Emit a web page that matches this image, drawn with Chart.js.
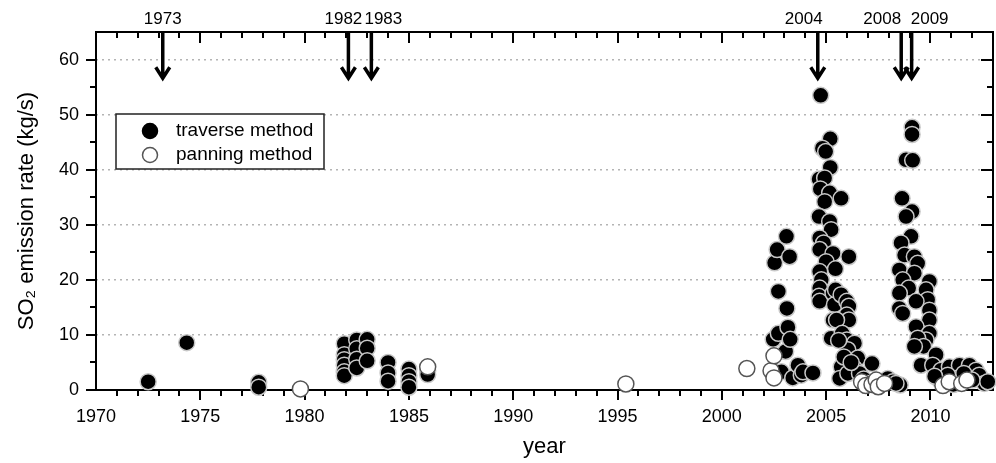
<!DOCTYPE html>
<html lang="en">
<head>
<meta charset="UTF-8">
<title>SO2 emission rate</title>
<style>
    body { margin: 0; background: #fff; }
    canvas { display: block; }
</style>
<script src="https://cdn.jsdelivr.net/npm/chart.js"></script>
</head>
<body>
<canvas id="chart" width="996" height="463"></canvas>
<script>
// values
const traverseYears = [
    1972.5, 1974.35, 1977.8, 1977.8,
    1981.9, 1981.9, 1981.9, 1981.9, 1981.9, 1981.9,
    1982.5, 1982.5, 1982.5, 1982.5,
    1983.0, 1983.0, 1983.0,
    1984.0, 1984.0, 1984.0,
    1985.0, 1985.0, 1985.0, 1985.0,
    1985.9, 1985.9,
    2002.46, 2002.53, 2002.65, 2002.71, 2002.71, 2002.86, 2003.06, 2003.1, 2003.12, 2003.17,
    2003.25, 2003.28, 2003.4, 2003.65, 2003.81, 2003.89, 2004.37,
    2004.74, 2005.2, 2004.82, 2004.98, 2005.2, 2004.66, 2004.93, 2004.72, 2005.17, 2005.72,
    2004.93, 2004.66, 2005.17, 2005.24, 2004.69, 2004.88, 2004.69, 2005.33, 2005.0, 2005.45,
    2004.69, 2004.77, 2004.69, 2004.66, 2004.69, 2005.33, 2005.4, 2005.33, 2005.24,
    2006.09, 2005.45, 2005.72, 2005.99, 2006.09, 2005.99, 2006.09, 2005.5, 2005.77, 2005.99,
    2006.36, 2006.04, 2006.52, 2005.72, 2006.36, 2007.2, 2005.65, 2006.04, 2006.6, 2005.6,
    2005.85, 2006.2, 2006.8, 2007.0, 2007.64, 2007.96, 2008.2, 2008.55, 2008.35,
    2009.12, 2009.12, 2008.83, 2009.15, 2008.64, 2009.12, 2008.83, 2009.07, 2008.59, 2008.76,
    2009.23, 2009.39, 2008.51, 2009.23, 2008.67, 2009.95, 2008.96, 2008.51, 2009.79, 2009.87,
    2009.31, 2008.51, 2008.67, 2009.95, 2009.95, 2009.31, 2009.95, 2009.79, 2009.39, 2009.67,
    2009.23, 2010.27, 2009.55, 2010.11, 2010.51, 2010.91, 2011.39, 2011.87, 2012.19, 2012.34,
    2012.58, 2010.43, 2011.23, 2010.83, 2010.2, 2011.6, 2012.0, 2011.1, 2012.75
];
const traverseRates = [
    1.5, 8.6, 1.4, 0.5,
    8.4, 6.4, 5.5, 4.5, 3.3, 2.6,
    9.1, 7.5, 5.6, 4.0,
    9.2, 7.6, 5.3,
    5.0, 3.1, 1.6,
    3.8, 2.6, 1.5, 0.5,
    3.5, 2.8,
    9.2, 23.1, 25.5, 17.9, 10.3, 3.3, 7.0, 27.9, 14.8, 11.4,
    24.2, 9.2, 2.2, 4.5, 2.7, 3.3, 3.1,
    53.5, 45.6, 43.9, 43.3, 40.4, 38.3, 38.5, 36.5, 35.8, 34.8,
    34.2, 31.5, 30.6, 29.1, 27.6, 26.7, 25.5, 24.8, 23.3, 22.0,
    21.5, 20.0, 18.5, 17.0, 16.1, 17.6, 15.5, 12.7, 9.4,
    24.2, 18.2, 17.3, 16.1, 15.2, 13.6, 12.7, 12.7, 10.3, 9.1,
    8.5, 7.3, 5.8, 4.2, 3.9, 4.8, 2.1, 3.0, 3.0, 9.0,
    6.0, 5.0, 2.0, 1.2, 1.5, 2.1, 1.5, 0.9, 1.2,
    47.7, 46.4, 41.8, 41.7, 34.8, 32.4, 31.5, 27.9, 26.7, 24.5,
    24.2, 23.0, 21.8, 21.2, 20.0, 19.7, 18.5, 17.6, 18.2, 16.4,
    16.1, 14.8, 13.9, 14.5, 12.7, 11.5, 10.3, 9.1, 9.4, 7.9,
    7.9, 6.4, 4.5, 4.5, 3.6, 4.2, 4.5, 4.5, 3.6, 2.7,
    1.2, 1.8, 2.1, 2.7, 2.5, 3.0, 1.8, 1.0, 1.5
];
const panningYears = [
    1979.8, 1985.9, 1995.4, 2001.2, 2002.36, 2002.5, 2002.5,
    2006.7, 2006.9, 2007.2, 2007.4, 2007.5, 2007.8,
    2010.6, 2010.9, 2011.5, 2011.75
];
const panningRates = [
    0.2, 4.2, 1.1, 3.9, 3.5, 6.2, 2.2,
    1.5, 0.8, 1.0, 1.8, 0.6, 1.2,
    0.8, 1.5, 1.2, 1.8
];
// eruption markers along the top
const eruptionYears = [1973.2, 1982.1, 1983.2, 2004.6, 2008.6, 2009.1];
const eruptionLabels = ['1973', '1982', '1983', '2004', '2008', '2009'];

// axis tick values
const xTickValues = [1970, 1975, 1980, 1985, 1990, 1995, 2000, 2005, 2010];
const yTickValues = [0, 10, 20, 30, 40, 50, 60];
const xRange = [1970, 2013];
const yRange = [0, 65];

const toPoints = (xs, ys) => xs.map((x, i) => ({ x: x, y: ys[i] }));

const FONT = "'Liberation Sans', Arial, sans-serif";

// frame with tick marks on all four sides (minor ticks every year / every 5)
const framePlugin = {
    id: 'frame',
    beforeDatasetsDraw(chart) {
        const { ctx, chartArea: a, scales: { x, y } } = chart;
        ctx.save();
        ctx.strokeStyle = '#000';
        ctx.lineWidth = 2;
        ctx.strokeRect(a.left, a.top, a.right - a.left, a.bottom - a.top);
        ctx.beginPath();
        for (let v = xRange[0] + 1; v < xRange[1]; v++) {
            const px = Math.round(x.getPixelForValue(v));
            const major = v % 5 === 0;
            ctx.moveTo(px, a.bottom);
            ctx.lineTo(px, a.bottom + (major ? 10 : 6));
            ctx.moveTo(px, a.top);
            ctx.lineTo(px, a.top + (major ? 11 : 6));
        }
        for (let v = yRange[0]; v < yRange[1]; v += 5) {
            const py = Math.round(y.getPixelForValue(v));
            const major = v % 10 === 0;
            ctx.moveTo(a.left, py);
            ctx.lineTo(a.left - (major ? 10 : 6), py);
            ctx.moveTo(a.right, py);
            ctx.lineTo(a.right - (major ? 12 : 6), py);
        }
        ctx.stroke();
        ctx.restore();
    }
};

// arrows + year labels, legend box
const overlayPlugin = {
    id: 'overlay',
    afterDraw(chart, args, opts) {
        const { ctx, chartArea: a, scales: { x, y } } = chart;
        ctx.save();
        ctx.strokeStyle = '#000';
        ctx.fillStyle = '#000';
        ctx.lineWidth = 3.5;
        ctx.lineCap = 'butt';
        const tipY = y.getPixelForValue(opts.arrowTip);
        eruptionYears.forEach((yr, i) => {
            const px = x.getPixelForValue(yr);
            ctx.beginPath();
            ctx.moveTo(px, a.top);
            ctx.lineTo(px, tipY);
            ctx.moveTo(px - 7, tipY - 11);
            ctx.lineTo(px, tipY);
            ctx.lineTo(px + 7, tipY - 11);
            ctx.stroke();
            ctx.font = '17px ' + FONT;
            ctx.textAlign = 'center';
            ctx.textBaseline = 'middle';
            ctx.fillText(eruptionLabels[i], px + opts.labelShift[i], a.top - 13);
        });

        // legend
        const lx = a.left + 20, ly = a.top + 82, lw = 208, lh = 55;
        ctx.fillStyle = '#fff';
        ctx.fillRect(lx, ly, lw, lh);
        ctx.lineWidth = 1.5;
        ctx.strokeStyle = '#222';
        ctx.strokeRect(lx, ly, lw, lh);
        const rows = [
            { label: 'traverse method', fill: '#000', stroke: '#000' },
            { label: 'panning method', fill: '#fff', stroke: '#555' }
        ];
        rows.forEach((r, i) => {
            const cy = ly + 17 + i * 24;
            ctx.beginPath();
            ctx.arc(lx + 34, cy, 7.5, 0, Math.PI * 2);
            ctx.fillStyle = r.fill;
            ctx.fill();
            ctx.lineWidth = 1.5;
            ctx.strokeStyle = r.stroke;
            ctx.stroke();
            ctx.fillStyle = '#000';
            ctx.font = '19px ' + FONT;
            ctx.textAlign = 'left';
            ctx.textBaseline = 'middle';
            ctx.fillText(r.label, lx + 60, cy);
        });
        ctx.restore();
    }
};

new Chart(document.getElementById('chart'), {
    type: 'scatter',
    data: {
        datasets: [
            {
                label: 'panning method',
                data: toPoints(panningYears, panningRates),
                pointRadius: 8,
                pointBackgroundColor: '#fff',
                pointBorderColor: '#555',
                pointBorderWidth: 1.5,
                clip: false
            },
            {
                label: 'traverse method',
                data: toPoints(traverseYears, traverseRates),
                pointRadius: 8,
                pointBackgroundColor: '#000',
                pointBorderColor: '#c8c8c8',
                pointBorderWidth: 1.5,
                clip: false
            }
        ]
    },
    options: {
        responsive: false,
        animation: false,
        layout: { autoPadding: false, padding: { top: 32, right: 3, left: 0, bottom: 0 } },
        plugins: {
            legend: { display: false },
            tooltip: { enabled: false },
            overlay: { arrowTip: 56.6, labelShift: [0, -5, 12, -14, -19, 18] }
        },
        scales: {
            x: {
                type: 'linear',
                min: xRange[0],
                max: xRange[1],
                afterBuildTicks: s => { s.ticks = xTickValues.map(v => ({ value: v })); },
                afterFit: s => { s.height = 73; s.paddingLeft = 0; s.paddingRight = 0; },
                border: { display: false },
                grid: { display: false, drawTicks: false },
                ticks: {
                    autoSkip: false,
                    color: '#000',
                    font: { size: 18, family: FONT },
                    padding: 16,
                    maxRotation: 0,
                    callback: v => String(v)
                },
                title: {
                    display: true,
                    text: 'year',
                    color: '#000',
                    font: { size: 22, family: FONT },
                    padding: { top: 0, bottom: 3 }
                }
            },
            y: {
                min: yRange[0],
                max: yRange[1],
                afterBuildTicks: s => { s.ticks = yTickValues.map(v => ({ value: v })); },
                afterFit: s => { s.width = 96; s.paddingTop = 0; s.paddingBottom = 0; },
                border: { display: false, dash: [2, 4] },
                grid: {
                    drawTicks: false,
                    lineWidth: 1.5,
                    color: c => (c.tick && c.tick.value > 0 ? '#b4b4b4' : 'rgba(0,0,0,0)')
                },
                ticks: {
                    color: '#000',
                    font: { size: 18, family: FONT },
                    padding: 17,
                    callback: v => String(v)
                },
                title: {
                    display: true,
                    text: 'SO₂ emission rate (kg/s)',
                    color: '#000',
                    font: { size: 22, family: FONT },
                    padding: { top: 14, bottom: 0 }
                }
            }
        }
    },
    plugins: [framePlugin, overlayPlugin]
});
</script>
</body>
</html>
